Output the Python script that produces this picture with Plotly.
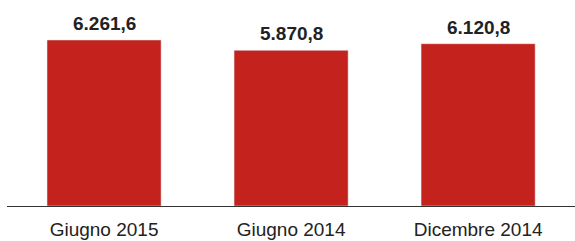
import plotly.graph_objects as go

categories = ["Giugno 2015", "Giugno 2014", "Dicembre 2014"]
values = [6261.6, 5870.8, 6120.8]
value_labels = ["6.261,6", "5.870,8", "6.120,8"]

bar_color = "#C4221C"

fig = go.Figure()
fig.add_trace(go.Bar(
    x=categories, y=values, marker_color=bar_color, width=0.61,
    hoverinfo="skip",
))

for c, v, t in zip(categories, values, value_labels):
    fig.add_annotation(x=c, y=v, text="<b>" + t + "</b>", showarrow=False,
                       yanchor="bottom", yshift=4,
                       font=dict(family="Liberation Sans", size=19, color="#222222"))

fig.update_layout(
    width=575, height=241,
    margin=dict(l=7, r=0, t=0, b=35),
    paper_bgcolor="white", plot_bgcolor="white",
    showlegend=False,
    xaxis=dict(range=[-0.519, 2.518], showline=True, linecolor="#333333", linewidth=1,
               showgrid=False, zeroline=False, ticks="", ticklabelstandoff=6,
               tickfont=dict(family="Liberation Sans", size=19, color="#222222")),
    yaxis=dict(range=[0, 7770], visible=False, showgrid=False, zeroline=False),
)

fig.write_html("out.html", config={"displayModeBar": False},
               post_script="document.body.style.margin='0';")
